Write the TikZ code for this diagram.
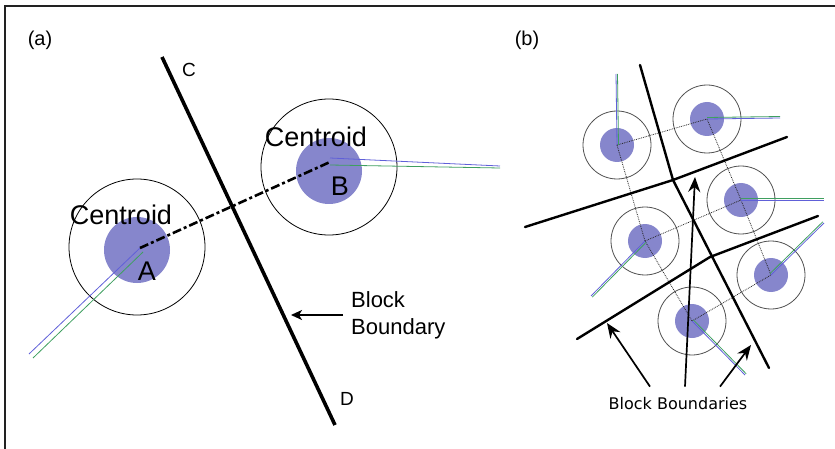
\documentclass[tikz,border=0pt]{standalone}
\usepackage{fontspec}
\setmainfont{Liberation Sans}
\newfontfamily\tahomafont{DejaVu Sans}
\usepackage{tikz}
\usetikzlibrary{arrows.meta,positioning}
\definecolor{framegray}{HTML}{222222}
\definecolor{diskblue}{HTML}{8686CC}
\definecolor{rimgray}{HTML}{505050}
\definecolor{vecgreen}{HTML}{3F9F60}
\definecolor{vecblue}{HTML}{6060D8}
\tikzset{
  rim/.style={circle,draw=black,line width=0.8pt,inner sep=0pt,minimum size=136pt},
  disk/.style={circle,fill=diskblue,inner sep=0pt,minimum size=66pt},
  boundary/.style={line width=2.4pt,line cap=round,line join=round},
  pointer/.style={-{Stealth[length=15pt,width=12pt,inset=5pt]},line width=1.7pt}
}

\begin{document}
\begin{tikzpicture}[x=1pt,y=-1pt,
  bigtext/.style={font=\fontsize{27}{30}\selectfont,inner sep=0pt},
  endtext/.style={font=\fontsize{19}{21}\selectfont,inner sep=0pt},
  smallrim/.style={rim,draw=rimgray,minimum size=68pt},
  smalldisk/.style={disk,minimum size=34pt},
  gridline/.style={densely dotted,line width=0.8pt,draw=black!85},
  vecb/.style={draw=vecblue,line width=0.8pt},
  vecg/.style={draw=vecgreen,line width=0.8pt}
]
  \useasboundingbox (0,0) rectangle (835,449);
  \draw[framegray,line width=2pt] (5,449) -- (5,6) -- (835,6);

  % (a) two blocks and their boundary
  \node[font=\fontsize{20}{22}\selectfont] (labelA) at (40,40) {(a)};
  \node[disk] (diskA) at (137,250) {};
  \node[disk] (diskB) at (329,171) {};
  \node[rim] (rimA) at (137,247) {};
  \node[rim] (rimB) at (329,167) {};
  \coordinate (cenA) at (140,248);
  \coordinate (cenB) at (330,162);
  \coordinate (vecA) at (29,354);
  \coordinate (vecB) at (500,166);
  \draw[vecb] (cenA) -- (vecA);
  \draw[vecg] ([shift={(3,4)}]cenA) -- ([shift={(4,4)}]vecA);
  \draw[vecb] ([yshift=4pt]cenB) -- (vecB);
  \draw[vecg] ([yshift=-3pt]cenB) -- ([yshift=-2pt]vecB);
  \draw[line width=2.6pt,dash pattern=on 9pt off 3pt on 3pt off 3pt] (cenA) -- (cenB);

  \coordinate (endC) at (162,57);
  \coordinate (endD) at (335,425);
  \draw[line width=3.6pt] (endC) -- (endD);
  \node[endtext] (labelC) at (189,70) {C};
  \node[endtext] (labelD) at (347,399) {D};

  \node[bigtext] (centA) at (121,215) {Centroid};
  \node[bigtext] (centB) at (316,137) {Centroid};
  \node[bigtext] (nameA) at (147,271) {A};
  \node[bigtext] (nameB) at (340,186) {B};

  \node[font=\fontsize{22}{27}\selectfont,align=left,anchor=west,inner sep=0pt]
    (boundA) at (351,315) {Block\\Boundary};
  \coordinate (tipA) at (291,315);
  \draw[-{Stealth[length=11pt,width=10pt,inset=3pt]},line width=1.7pt]
    ([xshift=-8pt]boundA.west) -- (tipA);

  % (b) six blocks
  \node[font=\fontsize{20}{22}\selectfont] (labelB) at (527,40) {(b)};
  \node[smalldisk] (d1) at (617,145) {};
  \node[smalldisk] (d2) at (707,119) {};
  \node[smalldisk] (d3) at (741,200) {};
  \node[smalldisk] (d4) at (645,241) {};
  \node[smalldisk] (d5) at (771,275) {};
  \node[smalldisk] (d6) at (692,321) {};
  \foreach \n in {1,...,6}
    \node[smallrim] (r\n) at (d\n) {};
  \draw[gridline] (d1.center) -- (d2.center);
  \draw[gridline] (d1.center) -- (d4.center);
  \draw[gridline] (d2.center) -- (d3.center);
  \draw[gridline] (d4.center) -- (d3.center);
  \draw[gridline] (d4.center) -- (d6.center);
  \draw[gridline] (d3.center) -- (d5.center);
  \draw[gridline] (d6.center) -- (d5.center);

  \coordinate (v1) at (616,74);
  \coordinate (v2) at (780,118);
  \coordinate (v3) at (824,200);
  \coordinate (v4) at (591,296);
  \coordinate (v5) at (824,223);
  \coordinate (v6) at (745,375);
  \foreach \n/\dx/\dy in {1/1.5/0,2/0/-1.5,3/0/-1.5,4/1.2/1.2,5/-1.2/-1.2,6/1.2/-1.2}{
    \draw[vecb] (d\n.center) -- (v\n);
    \draw[vecg] ([shift={(\dx,\dy)}]d\n.center) -- ([shift={(\dx,\dy)}]v\n);
  }

  \coordinate (x12) at (673,180);
  \coordinate (x13) at (710,257);
  \draw[boundary] (640,65) -- (x12) -- (769,368);
  \draw[boundary] (525,227) -- (x12) -- (787,137);
  \draw[boundary] (577,339) -- (x13) -- (818,216);

  \node[font=\tahomafont\fontsize{16}{18}\selectfont,inner sep=0pt]
    (boundB) at (678,404) {Block Boundaries};
  \coordinate (tip1) at (607,323);
  \coordinate (tip2) at (695,177);
  \coordinate (tip3) at (751,345);
  \draw[pointer] ([shift={(-28,-11)}]boundB.north) -- (tip1);
  \draw[pointer] ([shift={(7,-11)}]boundB.north) -- (tip2);
  \draw[pointer] ([shift={(42,-11)}]boundB.north) -- (tip3);
\end{tikzpicture}
\end{document}
